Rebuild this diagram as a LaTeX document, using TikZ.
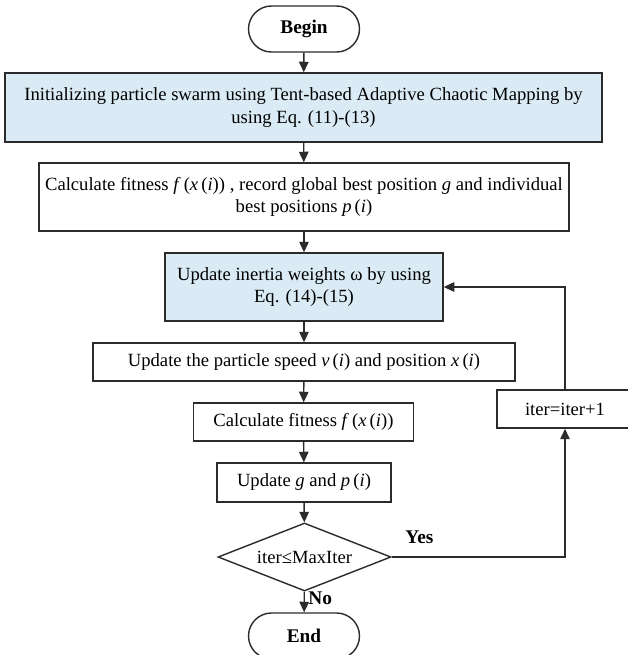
\documentclass[tikz,border=0pt]{standalone}
\usepackage{fontspec}
\setmainfont{Liberation Serif}
\usetikzlibrary{arrows.meta,shapes.misc,shapes.geometric}
\definecolor{boxblue}{HTML}{DAEBF5}
\definecolor{linegray}{HTML}{2B2B2B}

\begin{document}
\begin{tikzpicture}[x=0.02cm,y=-0.02cm,
  font=\fontsize{10.6}{12.6}\selectfont,
  every node/.style={inner sep=0pt,align=center,text=black},
  stepbox/.style={draw=linegray,line width=0.8pt,rectangle},
  bluebox/.style={stepbox,fill=boxblue},
  terminal/.style={draw=linegray,line width=0.8pt,rounded rectangle,
    minimum width=111*0.02cm,minimum height=46*0.02cm,font=\fontsize{11}{13}\selectfont\bfseries},
  decision/.style={draw=linegray,line width=0.8pt,diamond,aspect=2.5,
    minimum width=173*0.02cm,minimum height=68*0.02cm},
  arr/.style={draw=linegray,line width=0.8pt,-{Triangle[length=6pt,width=5.4pt]}},
  lbl/.style={font=\fontsize{11}{13}\selectfont\bfseries}]

\useasboundingbox (0,0) rectangle (627,655);

% === Main column ===
\node[terminal] (begin) at (304,29) {Begin};

\node[bluebox,minimum width=597*0.02cm,minimum height=69*0.02cm] (init) at (303.5,107.5)
  {Initializing particle swarm using Tent-based Adaptive Chaotic Mapping by\\ using Eq. (11)-(13)};

\node[stepbox,minimum width=530*0.02cm,minimum height=68*0.02cm] (calcfit) at (304,197)
  {Calculate fitness \textit{f}\,(\textit{x}\,(\textit{i})) , record global best position \textit{g} and individual\\ best positions \textit{p}\,(\textit{i})};

\node[bluebox,minimum width=278*0.02cm,minimum height=68*0.02cm] (inertia) at (304,287)
  {Update inertia weights ω by using\\ Eq. (14)-(15)};

\node[stepbox,minimum width=422*0.02cm,minimum height=38*0.02cm] (speed) at (304,362)
  {Update the particle speed \textit{v}\,(\textit{i}) and position \textit{x}\,(\textit{i})};

\node[stepbox,minimum width=220*0.02cm,minimum height=38*0.02cm] (fitness) at (303.5,422)
  {Calculate fitness \textit{f}\,(\textit{x}\,(\textit{i}))};

\node[stepbox,minimum width=174*0.02cm,minimum height=39*0.02cm] (updgp) at (304,482.5)
  {Update \textit{g} and \textit{p}\,(\textit{i})};

\node[decision] (cond) at (304.5,557) {iter≤MaxIter};

\node[terminal] (finish) at (304,636) {End};

% === Loop back ===
\node[stepbox,minimum width=136*0.02cm,minimum height=38*0.02cm] (iter) at (565,409) {iter=iter+1};

% === Connectors ===
\draw[arr] (begin) -- (init);
\draw[arr] (init) -- (calcfit);
\draw[arr] (calcfit) -- (inertia);
\draw[arr] (inertia) -- (speed);
\draw[arr] (speed) -- (fitness);
\draw[arr] (fitness) -- (updgp);
\draw[arr] (updgp) -- (cond);
\draw[arr] (cond) -- node[lbl,pos=0.3,right=2pt] (no) {No} (finish);
\draw[arr] (cond.east) -| node[lbl,pos=0.08,above=7pt] (yes) {Yes} (iter.south);
\draw[arr] (iter.north) |- (inertia.east);

\end{tikzpicture}
\end{document}
